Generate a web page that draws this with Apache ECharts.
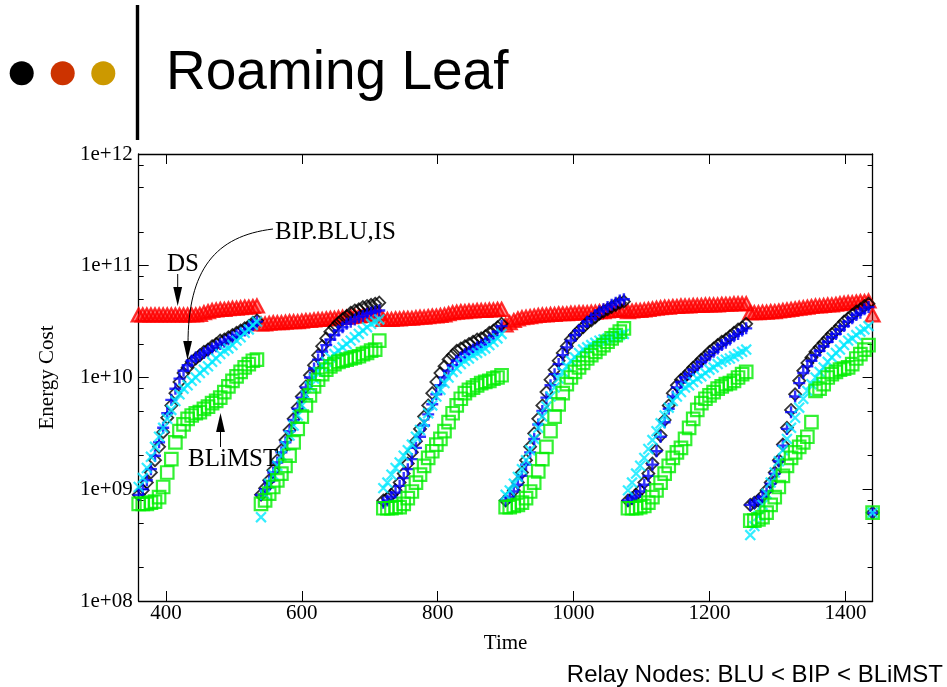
<!DOCTYPE html>
<html><head><meta charset="utf-8">
<script src="https://cdn.jsdelivr.net/npm/echarts@6/dist/echarts.min.js"></script>
<style>html,body{margin:0;padding:0;background:#fff}#c{width:947px;height:687px}</style>
</head><body><div id="c"></div>
<script>
// Sample times (6 episodes of 180 time units each, plus final reset point)
const times = [
360,366,372,378,384,390,396,402,408,414,420,426,432,438,444,450,456,462,468,474,480,486,492,498,504,510,516,522,528,534,
540,546,552,558,564,570,576,582,588,594,600,606,612,618,624,630,636,642,648,654,660,666,672,678,684,690,696,702,708,714,
720,726,732,738,744,750,756,762,768,774,780,786,792,798,804,810,816,822,828,834,840,846,852,858,864,870,876,882,888,894,
900,906,912,918,924,930,936,942,948,954,960,966,972,978,984,990,996,1002,1008,1014,1020,1026,1032,1038,1044,1050,1056,1062,1068,1074,
1080,1086,1092,1098,1104,1110,1116,1122,1128,1134,1140,1146,1152,1158,1164,1170,1176,1182,1188,1194,1200,1206,1212,1218,1224,1230,1236,1242,1248,1254,
1260,1266,1272,1278,1284,1290,1296,1302,1308,1314,1320,1326,1332,1338,1344,1350,1356,1362,1368,1374,1380,1386,1392,1398,1404,1410,1416,1422,1428,1434,
1440];

// log10(Energy Cost)
const dsExp = [
10.56,10.56,10.56,10.56,10.56,10.56,10.56,10.56,10.56,10.56,10.56,10.56,10.56,10.56,10.56,10.565,10.58,10.59,10.60,10.605,10.61,10.61,10.615,10.62,10.62,10.625,10.63,10.63,10.635,10.64,
10.48,10.48,10.485,10.49,10.49,10.49,10.495,10.50,10.50,10.50,10.505,10.51,10.51,10.515,10.52,10.52,10.525,10.53,10.53,10.535,10.54,10.54,10.545,10.55,10.55,10.555,10.56,10.56,10.565,10.57,
10.52,10.52,10.52,10.525,10.525,10.53,10.53,10.53,10.535,10.54,10.54,10.545,10.55,10.55,10.555,10.56,10.57,10.58,10.585,10.59,10.59,10.595,10.595,10.60,10.60,10.60,10.605,10.605,10.61,10.61,
10.47,10.49,10.51,10.525,10.535,10.54,10.545,10.55,10.555,10.56,10.56,10.565,10.565,10.57,10.57,10.57,10.575,10.575,10.58,10.58,10.58,10.585,10.585,10.59,10.59,10.595,10.60,10.60,10.605,10.61,
10.59,10.595,10.60,10.60,10.605,10.61,10.615,10.62,10.625,10.63,10.63,10.635,10.635,10.64,10.64,10.64,10.645,10.645,10.645,10.65,10.65,10.65,10.65,10.655,10.655,10.655,10.66,10.66,10.66,10.66,
10.58,10.58,10.58,10.585,10.585,10.59,10.59,10.595,10.60,10.605,10.61,10.615,10.62,10.625,10.63,10.635,10.64,10.64,10.645,10.65,10.65,10.655,10.66,10.665,10.67,10.67,10.675,10.68,10.68,10.685,
10.56];

const bipExp = [
8.95,8.99,9.06,9.15,9.26,9.38,9.51,9.64,9.75,9.86,9.96,10.04,10.09,10.14,10.17,10.20,10.23,10.25,10.28,10.30,10.33,10.34,10.36,10.38,10.40,10.42,10.44,10.46,10.49,10.51,
8.95,9.01,9.08,9.17,9.26,9.35,9.44,9.53,9.63,9.73,9.83,9.92,10.02,10.11,10.20,10.28,10.35,10.41,10.45,10.49,10.52,10.55,10.58,10.60,10.61,10.63,10.64,10.65,10.66,10.67,
8.90,8.92,8.95,8.99,9.06,9.14,9.23,9.33,9.43,9.54,9.65,9.75,9.86,9.96,10.04,10.10,10.16,10.20,10.24,10.26,10.28,10.30,10.32,10.34,10.35,10.37,10.40,10.42,10.45,10.48,
8.90,8.94,8.99,9.06,9.15,9.26,9.38,9.50,9.63,9.75,9.87,9.98,10.07,10.15,10.22,10.28,10.34,10.38,10.42,10.45,10.49,10.51,10.54,10.57,10.59,10.61,10.63,10.65,10.67,10.68,
8.90,8.92,8.95,8.99,9.06,9.14,9.23,9.35,9.48,9.62,9.75,9.86,9.93,9.98,10.01,10.05,10.09,10.12,10.16,10.19,10.23,10.26,10.29,10.32,10.34,10.37,10.40,10.43,10.45,10.48,
8.86,8.88,8.90,8.94,8.99,9.06,9.15,9.26,9.40,9.55,9.71,9.85,9.97,10.06,10.13,10.18,10.23,10.27,10.31,10.35,10.39,10.42,10.46,10.50,10.53,10.56,10.59,10.61,10.64,10.66,
8.79];

const bluExp = [
8.95,9.00,9.08,9.18,9.30,9.42,9.55,9.68,9.80,9.90,9.99,10.06,10.11,10.15,10.18,10.20,10.22,10.24,10.26,10.28,10.30,10.32,10.34,10.36,10.38,10.40,10.42,10.44,10.47,10.50,
8.95,9.00,9.07,9.15,9.24,9.33,9.42,9.52,9.62,9.72,9.82,9.91,10.00,10.08,10.16,10.23,10.29,10.34,10.38,10.42,10.45,10.48,10.50,10.52,10.54,10.55,10.57,10.58,10.59,10.60,
8.88,8.90,8.93,8.97,9.03,9.10,9.18,9.27,9.37,9.47,9.57,9.67,9.76,9.85,9.93,10.00,10.06,10.11,10.15,10.18,10.21,10.23,10.25,10.27,10.29,10.31,10.34,10.37,10.41,10.46,
8.90,8.93,8.98,9.04,9.12,9.22,9.33,9.45,9.58,9.70,9.82,9.93,10.03,10.12,10.20,10.27,10.33,10.38,10.42,10.46,10.50,10.53,10.56,10.59,10.61,10.63,10.65,10.67,10.69,10.70,
8.90,8.92,8.94,8.98,9.04,9.12,9.22,9.34,9.47,9.60,9.72,9.83,9.91,9.96,10.00,10.03,10.07,10.10,10.14,10.17,10.20,10.23,10.26,10.29,10.31,10.34,10.37,10.39,10.42,10.44,
8.86,8.88,8.90,8.93,8.98,9.05,9.14,9.25,9.39,9.54,9.69,9.83,9.95,10.04,10.10,10.15,10.20,10.24,10.28,10.32,10.36,10.39,10.43,10.46,10.50,10.53,10.56,10.58,10.61,10.63,
8.79];

const isExp = [
9.02,9.10,9.19,9.29,9.38,9.47,9.55,9.63,9.71,9.79,9.85,9.90,9.93,9.97,10.00,10.04,10.07,10.10,10.14,10.17,10.21,10.24,10.26,10.29,10.33,10.36,10.40,10.43,10.47,10.50,
8.75,8.95,9.05,9.13,9.21,9.30,9.39,9.48,9.57,9.66,9.75,9.84,9.92,9.99,10.05,10.10,10.14,10.18,10.21,10.24,10.27,10.30,10.33,10.36,10.39,10.42,10.45,10.48,10.50,10.52,
9.01,9.06,9.13,9.19,9.24,9.30,9.35,9.40,9.47,9.53,9.60,9.68,9.75,9.83,9.89,9.95,10.00,10.05,10.08,10.12,10.15,10.17,10.20,10.22,10.24,10.26,10.29,10.32,10.35,10.39,
8.95,8.99,9.05,9.11,9.18,9.26,9.35,9.45,9.55,9.65,9.74,9.83,9.91,9.99,10.05,10.10,10.15,10.18,10.22,10.25,10.27,10.29,10.31,10.33,10.34,10.35,10.36,10.37,10.38,10.39,
8.99,9.06,9.14,9.21,9.28,9.36,9.44,9.52,9.59,9.66,9.73,9.79,9.83,9.87,9.91,9.93,9.96,9.99,10.01,10.04,10.07,10.09,10.12,10.14,10.16,10.17,10.19,10.21,10.23,10.25,
8.59,8.67,8.76,8.86,8.96,9.06,9.15,9.25,9.35,9.45,9.55,9.64,9.73,9.81,9.88,9.94,10.00,10.05,10.09,10.14,10.18,10.22,10.25,10.29,10.33,10.35,10.38,10.41,10.43,10.46,
8.79];

const blimstExp = [
8.87,8.87,8.87,8.88,8.89,8.93,9.02,9.15,9.27,9.42,9.52,9.58,9.63,9.66,9.68,9.69,9.72,9.74,9.77,9.79,9.82,9.87,9.92,9.97,10.01,10.05,10.09,10.12,10.15,10.16,
8.87,8.90,8.96,9.02,9.08,9.14,9.21,9.30,9.42,9.54,9.65,9.75,9.84,9.92,9.98,10.03,10.07,10.10,10.12,10.14,10.15,10.16,10.17,10.18,10.19,10.21,10.22,10.24,10.25,10.33,
8.83,8.83,8.83,8.84,8.84,8.87,8.92,8.98,9.06,9.13,9.21,9.28,9.34,9.40,9.45,9.52,9.60,9.68,9.75,9.81,9.86,9.89,9.91,9.93,9.95,9.96,9.97,9.99,10.00,10.02,
8.84,8.84,8.85,8.86,8.88,8.92,8.98,9.06,9.16,9.27,9.38,9.52,9.65,9.76,9.86,9.94,10.00,10.05,10.09,10.13,10.17,10.20,10.23,10.26,10.29,10.32,10.35,10.38,10.41,10.44,
8.83,8.83,8.83,8.84,8.85,8.88,8.93,8.99,9.06,9.14,9.21,9.28,9.33,9.37,9.45,9.55,9.63,9.71,9.77,9.81,9.84,9.87,9.90,9.92,9.94,9.95,9.97,10.00,10.03,10.05,
8.72,8.72,8.73,8.75,8.79,8.86,8.93,9.02,9.12,9.21,9.28,9.33,9.38,9.42,9.47,9.60,9.88,9.90,9.94,10.00,10.03,10.05,10.07,10.08,10.09,10.12,10.17,10.21,10.25,10.29,
8.79];

const xTickValues = [400, 600, 800, 1000, 1200, 1400];
const yMinorTickValues = [2e8,5e8,8e8,2e9,5e9,8e9,2e10,5e10,8e10,2e11,5e11,8e11];

function points(exp) { return times.map((t, i) => [t, Math.pow(10, exp[i])]); }

const SERIF = '"Liberation Serif", "Times New Roman", serif';
const SANS = '"Liberation Sans", Arial, sans-serif';
const PLUS = 'path://M0,4h10v2h-10z M4,0h2v10h-2z';
const CROSS = 'path://M0,4.2h10v1.6h-10z M4.2,0h1.6v10h-1.6z';

const chart = echarts.init(document.getElementById('c'), null, {renderer: 'canvas', devicePixelRatio: 1});

const frameLine = {show: true, lineStyle: {color: '#000', width: 1.3}};
const baseX = {type: 'value', min: 360, max: 1440, splitLine: {show: false}, axisLine: frameLine};
const minorExp = yMinorTickValues.map(v => Math.log10(v));

chart.setOption({
  animation: false,
  backgroundColor: '#fff',
  grid: {left: 138.7, right: 74.4, top: 154, bottom: 86, outerBoundsMode: 'none'},
  xAxis: [
    Object.assign({}, baseX, {
      position: 'bottom',
      axisTick: {inside: true, length: 10, customValues: xTickValues, lineStyle: {color: '#000'}},
      axisLabel: {customValues: xTickValues, fontFamily: SERIF, fontSize: 21, color: '#000', margin: 2,
        formatter: v => String(v)},
      name: 'Time', nameLocation: 'middle', nameGap: 32,
      nameTextStyle: {fontFamily: SERIF, fontSize: 21, color: '#000'}
    }),
    Object.assign({}, baseX, {
      position: 'top',
      axisTick: {inside: true, length: 10, customValues: xTickValues, lineStyle: {color: '#000'}},
      axisLabel: {show: false}
    })
  ],
  yAxis: [
    {type: 'log', logBase: 10, min: 1e8, max: 1e12, position: 'left', splitLine: {show: false},
     axisLine: frameLine,
     axisTick: {inside: true, length: 10, lineStyle: {color: '#000'}},
     axisLabel: {fontFamily: SERIF, fontSize: 21, color: '#000', margin: 6,
       formatter: v => '1e+' + String(Math.round(Math.log10(v))).padStart(2, '0')},
     name: 'Energy Cost', nameLocation: 'middle', nameGap: 81, nameRotate: 90,
     nameTextStyle: {fontFamily: SERIF, fontSize: 21, color: '#000'}},
    {type: 'log', logBase: 10, min: 1e8, max: 1e12, position: 'right', splitLine: {show: false},
     axisLine: frameLine,
     axisTick: {inside: true, length: 10, lineStyle: {color: '#000'}},
     axisLabel: {show: false}},
    {type: 'value', min: 8, max: 12, position: 'left', splitLine: {show: false},
     axisLine: {show: false},
     axisTick: {inside: true, length: 5, customValues: minorExp, lineStyle: {color: '#000'}},
     axisLabel: {show: false}},
    {type: 'value', min: 8, max: 12, position: 'right', splitLine: {show: false},
     axisLine: {show: false},
     axisTick: {inside: true, length: 5, customValues: minorExp, lineStyle: {color: '#000'}},
     axisLabel: {show: false}}
  ],
  series: [
    {name: 'DS', type: 'scatter', data: points(dsExp), symbol: 'triangle', symbolSize: [14, 13],
     itemStyle: {color: 'rgba(255,0,0,0.55)', borderColor: '#ff0000', borderWidth: 2.2}, silent: true},
    {name: 'BIP', type: 'scatter', data: points(bipExp), symbol: 'diamond', symbolSize: 12,
     itemStyle: {color: 'rgba(0,0,0,0)', borderColor: '#000000', borderWidth: 1.8}, silent: true},
    {name: 'BLU', type: 'scatter', data: points(bluExp), symbol: PLUS, symbolSize: 12,
     itemStyle: {color: '#0000ff', borderWidth: 0}, silent: true},
    {name: 'IS', type: 'scatter', data: points(isExp), symbol: CROSS, symbolSize: 14, symbolRotate: 45,
     itemStyle: {color: '#00e8ff', borderWidth: 0}, silent: true},
    {name: 'BLiMST', type: 'scatter', data: points(blimstExp), symbol: 'rect', symbolSize: 12.5,
     itemStyle: {color: 'rgba(0,0,0,0)', borderColor: '#00ee00', borderWidth: 2.2}, silent: true}
  ],
  graphic: [
    {type: 'circle', shape: {cx: 21.7, cy: 73.3, r: 12}, style: {fill: '#000'}},
    {type: 'circle', shape: {cx: 62.7, cy: 73.3, r: 12}, style: {fill: '#cc3300'}},
    {type: 'circle', shape: {cx: 103.3, cy: 73.3, r: 12}, style: {fill: '#cc9900'}},
    {type: 'rect', shape: {x: 135.8, y: 5, width: 3.4, height: 135}, style: {fill: '#000'}},
    {type: 'text', x: 166, y: 74, style: {text: 'Roaming Leaf', font: '55px ' + SANS, fill: '#000', align: 'left', verticalAlign: 'middle'}},
    {type: 'text', x: 943, y: 675, style: {text: 'Relay Nodes: BLU < BIP < BLiMST', font: '24px ' + SANS, fill: '#000', align: 'right', verticalAlign: 'middle'}},
    {type: 'text', x: 183, y: 264, z: 100, style: {text: 'DS', font: '25px ' + SERIF, fill: '#000', align: 'center', verticalAlign: 'middle'}},
    {type: 'text', x: 275, y: 232, z: 100, style: {text: 'BIP.BLU,IS', font: '25px ' + SERIF, fill: '#000', align: 'left', verticalAlign: 'middle'}},
    {type: 'text', x: 188, y: 459, z: 100, style: {text: 'BLiMST', font: '25px ' + SERIF, fill: '#000', align: 'left', verticalAlign: 'middle'}},
    {type: 'line', z: 100, shape: {x1: 177.7, y1: 274, x2: 177.7, y2: 292}, style: {stroke: '#000', lineWidth: 1}},
    {type: 'polygon', z: 100, shape: {points: [[177.7, 306], [173.3, 287], [182.1, 287]]}, style: {fill: '#000'}},
    {type: 'bezierCurve', z: 100, shape: {x1: 273, y1: 229, cpx1: 215, cpy1: 236, cpx2: 188, cpy2: 270, x2: 188, y2: 344}, style: {stroke: '#000', lineWidth: 1, fill: 'none'}},
    {type: 'polygon', z: 100, shape: {points: [[187.5, 360], [183.2, 341], [192, 341]]}, style: {fill: '#000'}},
    {type: 'line', z: 100, shape: {x1: 220.5, y1: 447, x2: 220.5, y2: 428}, style: {stroke: '#000', lineWidth: 1}},
    {type: 'polygon', z: 100, shape: {points: [[220.5, 413], [216.1, 432], [224.9, 432]]}, style: {fill: '#000'}}
  ]
});
</script>
</body></html>
